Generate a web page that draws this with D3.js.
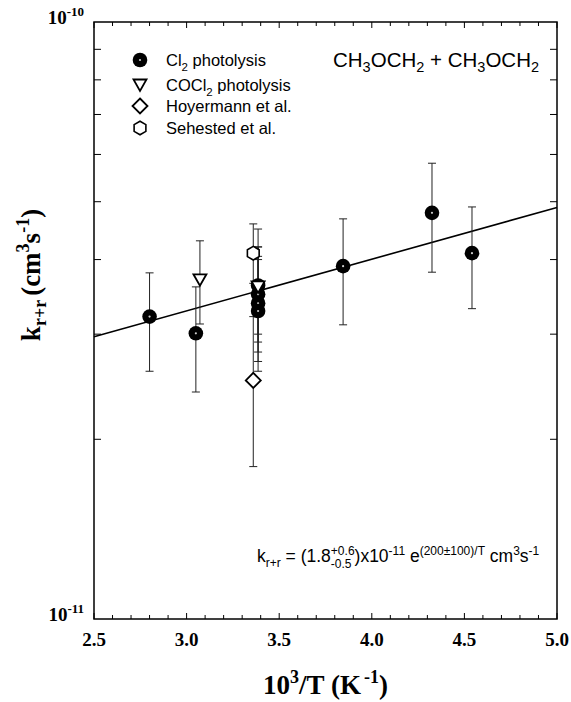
<!DOCTYPE html>
<html>
<head>
<meta charset="utf-8">
<script src="https://cdn.jsdelivr.net/npm/d3@7"></script>
<style>
  body { margin: 0; background: #fff; }
  text { white-space: pre; }
  .sans text { font-family: "Liberation Sans", Arial, sans-serif; fill: #000; }
  .serif text { font-family: "Liberation Serif", "Times New Roman", serif; font-weight: bold; fill: #000; }
</style>
</head>
<body>
<div id="chart"></div>
<script>
const width = 571;
const height = 702;
const margin = {top: 22, right: 14, bottom: 83, left: 94};

// k values in units of 1e-11 cm3 s-1, x = 1000/T
const cl2X  = [2.80, 3.05, 3.386, 3.386, 3.386, 3.386, 3.845, 4.325, 4.541];
const cl2Y  = [3.21, 3.01, 3.62, 3.50, 3.38, 3.28, 3.90, 4.79, 4.10];
const cl2Lo = [2.60, 2.40, 2.91, 2.80, 2.70, 2.60, 3.11, 3.81, 3.31];
const cl2Hi = [3.80, 3.60, 4.50, 4.20, 4.05, 4.00, 4.68, 5.80, 4.90];

const coclX  = [3.072, 3.386];
const coclY  = [3.70, 3.60];
const coclLo = [3.12, 3.00];
const coclHi = [4.30, 4.20];

const hoyX  = [3.36];
const hoyY  = [2.51];
const hoyLo = [1.80];
const hoyHi = [3.21];

const sehX  = [3.36];
const sehY  = [4.10];
const sehLo = [3.65];
const sehHi = [4.59];

// fitted Arrhenius line, end points
const fitX = [2.5, 5.0];
const fitY = [2.97, 4.89];

const xTicks = [2.5, 3.0, 3.5, 4.0, 4.5, 5.0];
const xMinor = d3.range(26).map(i => 2.5 + i * 0.1);
const yMinor = [2, 3, 4, 5, 6, 7, 8, 9];
const yLabels = [{v: 1, exp: "-11"}, {v: 10, exp: "-10"}];

const x = d3.scaleLinear().domain([2.5, 5.0]).range([margin.left, width - margin.right]);
const y = d3.scaleLog().domain([1, 10]).range([height - margin.bottom, margin.top]);

const svg = d3.select("#chart").append("svg")
    .attr("width", width)
    .attr("height", height)
    .attr("viewBox", [0, 0, width, height]);

const x0 = x.range()[0], x1 = x.range()[1];
const yb = y.range()[0], yt = y.range()[1];

// lays out a run of text pieces (with super/subscripts), returns its width
function richText(g, runs) {
  let cx = 0;
  runs.forEach(r => {
    if (r.stack) {
      let w = 0;
      r.stack.forEach(s => {
        const el = g.append("text").attr("x", cx).attr("y", s.dy)
            .style("font-size", s.size + "px").text(s.t);
        w = Math.max(w, el.node().getComputedTextLength());
      });
      cx += w;
    } else {
      const el = g.append("text").attr("x", cx).attr("y", r.dy || 0)
          .style("font-size", r.size + "px").text(r.t);
      cx += el.node().getComputedTextLength() + (r.gap || 0);
    }
  });
  return cx;
}

// ticks
const ticks = svg.append("g").attr("stroke", "#000").attr("stroke-width", 1);
xMinor.forEach(v => {
  const major = Math.abs(v * 2 - Math.round(v * 2)) < 1e-6;
  const len = major ? 6 : 4;
  ticks.append("line").attr("x1", x(v)).attr("x2", x(v)).attr("y1", yb).attr("y2", yb - len);
  ticks.append("line").attr("x1", x(v)).attr("x2", x(v)).attr("y1", yt).attr("y2", yt + len);
});
yMinor.forEach(v => {
  ticks.append("line").attr("x1", x0).attr("x2", x0 + 7).attr("y1", y(v)).attr("y2", y(v));
  ticks.append("line").attr("x1", x1).attr("x2", x1 - 7).attr("y1", y(v)).attr("y2", y(v));
});

// frame
svg.append("rect")
    .attr("x", x0).attr("y", yt)
    .attr("width", x1 - x0).attr("height", yb - yt)
    .attr("fill", "none").attr("stroke", "#000").attr("stroke-width", 1.5);

// tick labels
const axisText = svg.append("g").attr("class", "serif");
xTicks.forEach(v => {
  axisText.append("text")
      .attr("x", x(v)).attr("y", yb + 27)
      .attr("text-anchor", "middle")
      .style("font-size", "19px")
      .text(v.toFixed(1));
});
yLabels.forEach(d => {
  const g = axisText.append("g");
  const w = richText(g, [
    {t: "10", size: 19},
    {t: d.exp, size: 13, dy: -8}
  ]);
  g.attr("transform", `translate(${84 - w},${y(d.v) + 2})`);
});

// axis titles
{
  const g = axisText.append("g");
  const w = richText(g, [
    {t: "10", size: 27},
    {t: "3", size: 18, dy: -11},
    {t: "/T (K", size: 27, gap: 3},
    {t: "-1", size: 18, dy: -11},
    {t: ")", size: 27}
  ]);
  g.attr("transform", `translate(${(x0 + x1) / 2 - w / 2},694)`);
}
{
  const g = axisText.append("g");
  const w = richText(g, [
    {t: "k", size: 27},
    {t: "r+r", size: 18, dy: 6, gap: 4},
    {t: "(cm", size: 27},
    {t: "3", size: 18, dy: -11},
    {t: "s", size: 27},
    {t: "-1", size: 18, dy: -11},
    {t: ")", size: 27}
  ]);
  g.attr("transform", `translate(40,${275 + w / 2}) rotate(-90)`);
}

// fit line
svg.append("path")
    .datum(d3.zip(fitX, fitY))
    .attr("fill", "none")
    .attr("stroke", "#000")
    .attr("stroke-width", 1.6)
    .attr("d", d3.line().x(d => x(d[0])).y(d => y(d[1])));

// error bars
const series = [
  {xs: cl2X, ys: cl2Y, lo: cl2Lo, hi: cl2Hi, sym: "circle"},
  {xs: hoyX, ys: hoyY, lo: hoyLo, hi: hoyHi, sym: "diamond"},
  {xs: sehX, ys: sehY, lo: sehLo, hi: sehHi, sym: "hexagon"},
  {xs: coclX, ys: coclY, lo: coclLo, hi: coclHi, sym: "triangle"}
];

const bars = svg.append("g").attr("stroke", "#222").attr("stroke-width", 1);
series.forEach(s => {
  s.xs.forEach((xv, i) => {
    const px = x(xv);
    bars.append("line").attr("x1", px).attr("x2", px).attr("y1", y(s.lo[i])).attr("y2", y(s.hi[i]));
    [s.lo[i], s.hi[i]].forEach(v => {
      bars.append("line").attr("x1", px - 4).attr("x2", px + 4).attr("y1", y(v)).attr("y2", y(v));
    });
  });
});

// markers
function marker(g, sym, px, py) {
  if (sym === "circle") {
    g.append("circle").attr("cx", px).attr("cy", py).attr("r", 7.3).attr("fill", "#000");
    g.append("circle").attr("cx", px).attr("cy", py).attr("r", 1.1).attr("fill", "#fff").attr("opacity", 0.8);
  } else if (sym === "triangle") {
    g.append("path")
        .attr("d", `M${px - 6.5},${py - 5.5}L${px + 6.5},${py - 5.5}L${px},${py + 6}Z`)
        .attr("fill", "#fff").attr("stroke", "#000").attr("stroke-width", 1.8);
  } else if (sym === "diamond") {
    g.append("path")
        .attr("d", `M${px},${py - 7.5}L${px + 7.5},${py}L${px},${py + 7.5}L${px - 7.5},${py}Z`)
        .attr("fill", "#fff").attr("stroke", "#000").attr("stroke-width", 1.8);
  } else if (sym === "hexagon") {
    const r = 6.8;
    const pts = d3.range(6).map(k => {
      const a = Math.PI / 2 + k * Math.PI / 3;
      return [px + r * Math.cos(a), py + r * Math.sin(a)];
    });
    g.append("path")
        .attr("d", "M" + pts.join("L") + "Z")
        .attr("fill", "#fff").attr("stroke", "#000").attr("stroke-width", 1.6);
  }
}

const marks = svg.append("g");
series.forEach(s => {
  s.xs.forEach((xv, i) => marker(marks, s.sym, x(xv), y(s.ys[i])));
});

// legend
const legendRows = [
  {sym: "circle", y: 60, runs: [{t: "Cl", size: 16.5}, {t: "2", size: 11.5, dy: 5}, {t: " photolysis", size: 16.5}]},
  {sym: "triangle", y: 85, runs: [{t: "COCl", size: 16.5}, {t: "2", size: 11.5, dy: 5}, {t: " photolysis", size: 16.5}]},
  {sym: "diamond", y: 106, runs: [{t: "Hoyermann et al.", size: 16.5}]},
  {sym: "hexagon", y: 128, runs: [{t: "Sehested et al.", size: 16.5}]}
];
const legend = svg.append("g").attr("class", "sans");
legendRows.forEach(r => {
  marker(legend, r.sym, 140, r.y);
  const g = legend.append("g").attr("transform", `translate(166,${r.y + 6})`);
  richText(g, r.runs);
});

// reaction label
{
  const g = svg.append("g").attr("class", "sans");
  richText(g, [
    {t: "CH", size: 20.5}, {t: "3", size: 14.5, dy: 5},
    {t: "OCH", size: 20.5}, {t: "2", size: 14.5, dy: 5},
    {t: " + CH", size: 20.5}, {t: "3", size: 14.5, dy: 5},
    {t: "OCH", size: 20.5}, {t: "2", size: 14.5, dy: 5}
  ]);
  g.attr("transform", "translate(333,67)");
}

// rate expression
{
  const g = svg.append("g").attr("class", "sans");
  richText(g, [
    {t: "k", size: 17.5}, {t: "r+r", size: 12, dy: 5},
    {t: " = (1.8", size: 17.5},
    {stack: [{t: "+0.6", size: 12, dy: -7}, {t: "-0.5", size: 12, dy: 6}]},
    {t: ")x10", size: 17.5}, {t: "-11", size: 12, dy: -7},
    {t: " e", size: 17.5}, {t: "(200\u00b1100)/T", size: 12, dy: -7},
    {t: " cm", size: 17.5}, {t: "3", size: 12, dy: -7},
    {t: "s", size: 17.5}, {t: "-1", size: 12, dy: -7}
  ]);
  g.attr("transform", "translate(257,562)");
}
</script>
</body>
</html>
